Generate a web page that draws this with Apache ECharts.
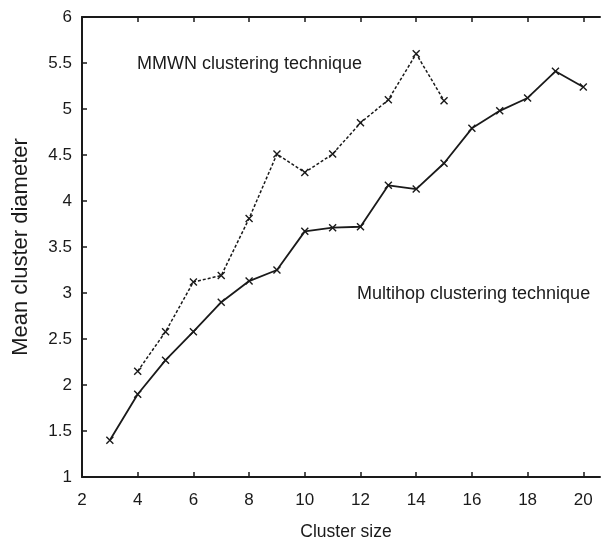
<!DOCTYPE html>
<html>
<head>
<meta charset="utf-8">
<script src="https://cdn.jsdelivr.net/npm/echarts@6/dist/echarts.min.js"></script>
<style>
  html, body { margin: 0; padding: 0; background: #fff; }
  #chart { width: 603px; height: 546px; }
</style>
</head>
<body>
<div id="chart"></div>
<script>
// Mean cluster diameter versus cluster size for two clustering techniques
const multihopSizes = [3, 4, 5, 6, 7, 8, 9, 10, 11, 12, 13, 14, 15, 16, 17, 18, 19, 20];
const multihopDiameter = [1.40, 1.90, 2.27, 2.58, 2.90, 3.13, 3.25, 3.67, 3.71, 3.72, 4.17, 4.13, 4.41, 4.79, 4.98, 5.12, 5.41, 5.24];

const mmwnSizes = [4, 5, 6, 7, 8, 9, 10, 11, 12, 13, 14, 15];
const mmwnDiameter = [2.15, 2.58, 3.12, 3.19, 3.81, 4.51, 4.31, 4.51, 4.85, 5.10, 5.60, 5.09];

const yTicks = [1, 1.5, 2, 2.5, 3, 3.5, 4, 4.5, 5, 5.5, 6];
const xTicks = [2, 4, 6, 8, 10, 12, 14, 16, 18, 20];

const mmwnLabel = 'MMWN clustering technique';
const multihopLabel = 'Multihop clustering technique';

const ink = '#1a1a1a';
const font = '"Liberation Sans", Arial, sans-serif';
const cross = 'path://M0,0L10,10M10,0L0,10';

function pairs(xs, ys) { return xs.map((x, i) => [x, ys[i]]); }

const chart = echarts.init(document.getElementById('chart'), null, { renderer: 'canvas' });

const axisLine = { show: true, lineStyle: { color: ink, width: 2 } };
const tickStyle = { show: true, inside: true, length: 5, lineStyle: { color: ink, width: 1.5 } };

chart.setOption({
  animation: false,
  backgroundColor: '#fff',
  grid: { left: 82, top: 17, right: 3, bottom: 69, containLabel: false },
  xAxis: [
    {
      type: 'value', min: 2, max: 20.6, interval: 2,
      name: 'Cluster size', nameLocation: 'middle', nameGap: 46,
      nameTextStyle: { fontFamily: font, fontSize: 17.5, color: ink, padding: [0, 0, 0, 10] },
      axisLine: axisLine,
      axisTick: Object.assign({ customValues: xTicks }, tickStyle),
      axisLabel: {
        customValues: xTicks,
        margin: 15, fontFamily: font, fontSize: 17, color: ink
      },
      splitLine: { show: false }
    },
    {
      type: 'value', position: 'top', min: 2, max: 20.6, interval: 2,
      axisLine: axisLine,
      axisTick: Object.assign({ customValues: xTicks }, tickStyle),
      axisLabel: { show: false },
      splitLine: { show: false }
    }
  ],
  yAxis: {
    type: 'value', min: 1, max: 6, interval: 0.5,
    name: 'Mean cluster diameter', nameLocation: 'middle', nameGap: 50,
    nameTextStyle: { fontFamily: font, fontSize: 22, color: ink },
    axisLine: axisLine,
    axisTick: Object.assign({ customValues: yTicks }, tickStyle),
    axisLabel: {
      customValues: yTicks,
      margin: 10, fontFamily: font, fontSize: 17, color: ink
    },
    splitLine: { show: false }
  },
  series: [
    {
      name: multihopLabel, type: 'line',
      data: pairs(multihopSizes, multihopDiameter),
      symbol: cross, symbolSize: 7,
      itemStyle: { color: 'rgba(0,0,0,0)', borderColor: ink, borderWidth: 1.4 },
      lineStyle: { color: ink, width: 1.8, type: 'solid' }
    },
    {
      name: mmwnLabel, type: 'line',
      data: pairs(mmwnSizes, mmwnDiameter),
      symbol: cross, symbolSize: 7,
      itemStyle: { color: 'rgba(0,0,0,0)', borderColor: ink, borderWidth: 1.4 },
      lineStyle: { color: ink, width: 1.5, type: [3, 2] }
    }
  ],
  graphic: [
    {
      type: 'text', left: 137, top: 55,
      style: { text: mmwnLabel, font: '18px ' + font, fill: ink }
    },
    {
      type: 'text', left: 357, top: 285,
      style: { text: multihopLabel, font: '18px ' + font, fill: ink }
    }
  ]
});
</script>
</body>
</html>
